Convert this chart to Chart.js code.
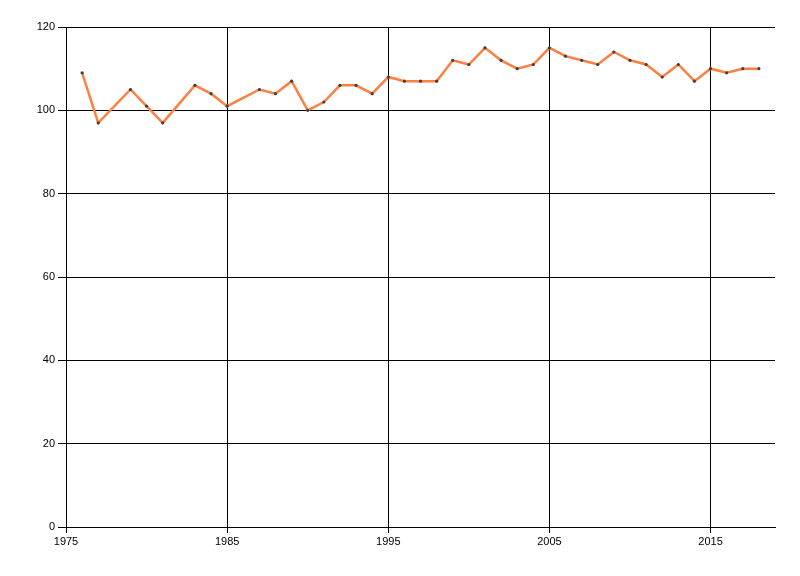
<!DOCTYPE html>
<html>
<head>
<meta charset="utf-8">
<style>
  html, body { margin: 0; padding: 0; background: #ffffff; }
  #wrap { width: 800px; height: 576px; }
</style>
<script src="https://cdn.jsdelivr.net/npm/chart.js@4"></script>
</head>
<body>
<div id="wrap"><canvas id="grafico"></canvas></div>
<script>
// dados (alguns anos faltam: 1978, 1982, 1986)
const anos = [1976, 1977, 1979, 1980, 1981, 1983, 1984, 1985, 1987, 1988, 1989,
  1990, 1991, 1992, 1993, 1994, 1995, 1996, 1997, 1998, 1999, 2000, 2001, 2002,
  2003, 2004, 2005, 2006, 2007, 2008, 2009, 2010, 2011, 2012, 2013, 2014, 2015,
  2016, 2017, 2018];
const valores = [109, 97, 105, 101, 97, 106, 104, 101, 105, 104, 107,
  100, 102, 106, 106, 104, 108, 107, 107, 107, 112, 111, 115, 112,
  110, 111, 115, 113, 112, 111, 114, 112, 111, 108, 111, 107, 110,
  109, 110, 110];
const ticksX = [1975, 1985, 1995, 2005, 2015];
const ticksY = [0, 20, 40, 60, 80, 100, 120];

const fonte = { family: 'Liberation Sans, Arial, sans-serif', size: 11 };

const ctx = document.getElementById('grafico').getContext('2d');
new Chart(ctx, {
    type: 'line',
    data: {
        datasets: [{
            data: anos.map((a, i) => ({ x: a, y: valores[i] })),
            borderColor: 'rgb(255, 127, 64)',
            borderWidth: 2.5,
            pointRadius: 1.6,
            pointBackgroundColor: '#404040',
            pointBorderWidth: 0,
            tension: 0,
            fill: false
        }]
    },
    options: {
        responsive: true,
        maintainAspectRatio: false,
        animation: false,
        layout: { padding: { left: 0, top: 27, right: 25, bottom: 0 } },
        plugins: {
            legend: { display: false },
            tooltip: { enabled: false }
        },
        scales: {
            x: {
                type: 'linear',
                min: 1975,
                max: 2019,
                afterBuildTicks: s => { s.ticks = ticksX.map(v => ({ value: v })); },
                afterFit: s => { s.height = 49; },
                grid: { color: '#000000', lineWidth: 1, tickLength: 6 },
                border: { color: '#000000', width: 1 },
                ticks: { color: '#000000', font: fonte, padding: 2, maxRotation: 0,
                    callback: v => String(v) }
            },
            y: {
                min: 0,
                max: 120,
                afterBuildTicks: s => { s.ticks = ticksY.map(v => ({ value: v })); },
                afterFit: s => { s.width = 66; },
                grid: { color: '#000000', lineWidth: 1, tickLength: 8 },
                border: { color: '#000000', width: 1 },
                ticks: { color: '#000000', font: fonte, padding: 3 }
            }
        }
    }
});
</script>
</body>
</html>
